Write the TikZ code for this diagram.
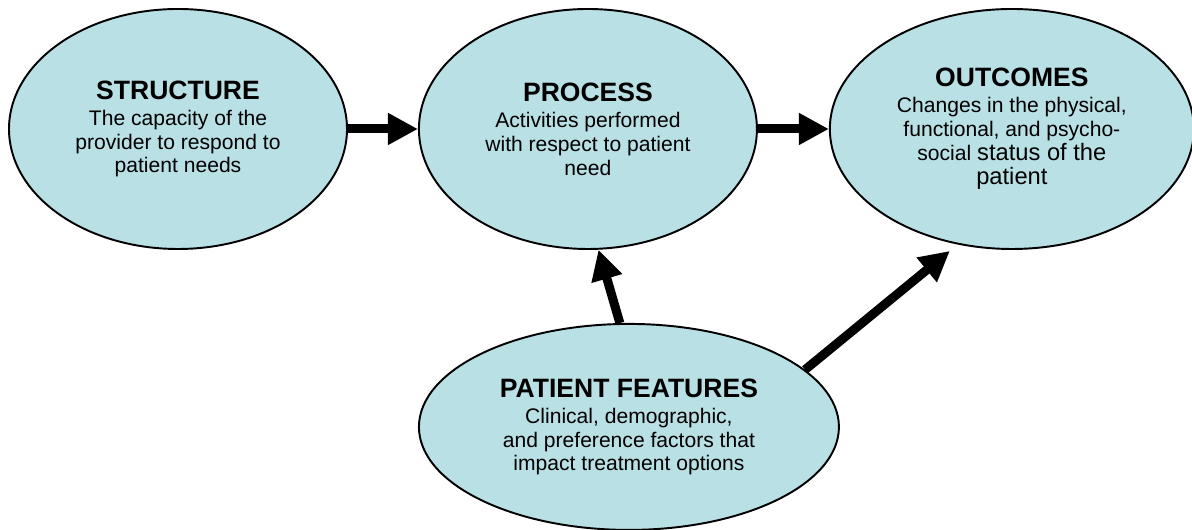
\documentclass[tikz,border=0pt]{standalone}
\usepackage{fontspec}
\setmainfont{Liberation Sans}
\usetikzlibrary{shapes,arrows.meta,positioning,calc}
\definecolor{stagefill}{RGB}{185,224,228}
\newcommand{\stagetitle}[1]{{\fontsize{15.1}{17}\selectfont\bfseries #1}\\[1.2pt]}
\newcommand{\bigpart}[1]{{\fontsize{13.5}{15}\selectfont #1}}
\tikzset{
    stage/.style = {draw, fill=stagefill, ellipse, line width=1.1pt, inner sep=0pt, align=center,
        font=\fontsize{12}{13.6}\selectfont, minimum width=6.76cm, minimum height=4.8cm},
    flow/.style  = {line width=0.18cm, -{Triangle[length=0.6cm, width=0.6cm]}}
}

\begin{document}
\begin{tikzpicture}
    \useasboundingbox (0,0) rectangle (23.84,10.6);
    \node [stage] at (3.56,8.02)                        (structure) {\stagetitle{STRUCTURE}The capacity of the\\provider to respond to\\patient needs};
    \node [stage, right=1.4cm of structure]             (process)   {\stagetitle{PROCESS}Activities performed\\with respect to patient\\need};
    \node [stage, right=1.42cm of process, minimum width=7.28cm] (outcomes) {\stagetitle{OUTCOMES}Changes in the physical,\\functional, and psycho-\\social \bigpart{status of the}\\\bigpart{patient}};
    \node [stage, below=1.46cm of process, xshift=0.82cm, minimum width=8.4cm, minimum height=4.12cm] (patient) {\stagetitle{PATIENT FEATURES}Clinical, demographic,\\and preference factors that\\impact treatment options};

    \draw [flow] (structure) -- (process);
    \draw [flow] (process) -- (outcomes);
    \draw [flow] (patient.95) -- (process.275);
    \draw [flow] (patient.18) -- ($(outcomes.south)+(-1.24,-0.02)$);
\end{tikzpicture}
\end{document}
